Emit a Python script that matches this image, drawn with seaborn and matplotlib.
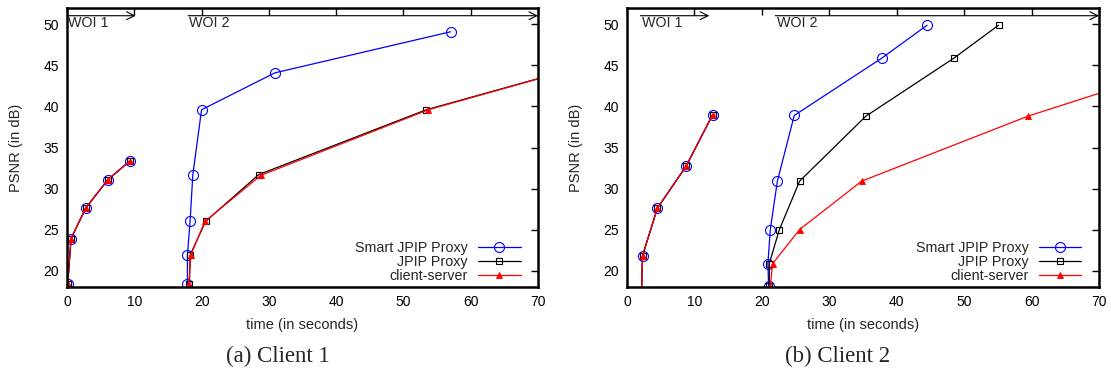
import matplotlib
matplotlib.use("Agg")
import matplotlib.pyplot as plt
from matplotlib.lines import Line2D
import seaborn as sns
import pandas as pd

# ---------------- data ----------------
series_names = ["Smart JPIP Proxy", "JPIP Proxy", "client-server"]

# Client 1
c1_woi1_t = [0.1, 0.6, 2.8, 6.1, 9.4]
c1_woi1_p = [18.35, 23.9, 27.65, 31.1, 33.4]

c1_smart_t = [17.9, 17.9, 18.3, 18.7, 20.0, 30.9, 57.0]
c1_smart_p = [18.35, 21.9, 26.1, 31.7, 39.6, 44.1, 49.1]
c1_jpip_t = [18.2, 18.3, 20.6, 28.5, 53.4, 88.0]
c1_jpip_p = [18.35, 21.9, 26.0, 31.7, 39.6, 47.5]
c1_cs_t = [18.1, 18.4, 20.5, 28.8, 53.7, 88.0]
c1_cs_p = [18.35, 21.9, 26.0, 31.6, 39.6, 47.5]

# Client 2
c2_woi1_t = [2.1, 2.3, 4.5, 8.75, 12.7]
c2_woi1_p = [16.0, 21.8, 27.6, 32.7, 39.0]

c2_smart_t = [21.0, 20.9, 21.25, 22.3, 24.8, 37.8, 44.5]
c2_smart_p = [18.1, 20.85, 25.0, 30.9, 38.9, 45.9, 49.9]
c2_jpip_t = [21.1, 21.1, 22.6, 25.6, 35.4, 48.5, 55.1]
c2_jpip_p = [18.1, 20.85, 25.0, 30.9, 38.8, 45.9, 49.9]
c2_cs_t = [21.25, 21.6, 25.6, 34.8, 59.4, 84.0]
c2_cs_p = [18.1, 20.85, 25.0, 30.9, 38.8, 45.3]

x_ticks = [0, 10, 20, 30, 40, 50, 60, 70]
y_ticks = [20, 25, 30, 35, 40, 45, 50]

woi_c1 = [("WOI 1", 0.0, 10.2), ("WOI 2", 18.0, 70.0)]
woi_c2 = [("WOI 1", 2.0, 12.2), ("WOI 2", 22.0, 70.0)]


def build(woi1_t, woi1_p, series):
    rows = []
    for name, (t2, p2) in zip(series_names, series):
        for t, p in zip(woi1_t, woi1_p):
            rows.append(dict(series=name, seg="w1", time=t, psnr=p))
        for t, p in zip(t2, p2):
            rows.append(dict(series=name, seg="w2", time=t, psnr=p))
    return pd.DataFrame(rows)


df1 = build(c1_woi1_t, c1_woi1_p, [(c1_smart_t, c1_smart_p), (c1_jpip_t, c1_jpip_p), (c1_cs_t, c1_cs_p)])
df2 = build(c2_woi1_t, c2_woi1_p, [(c2_smart_t, c2_smart_p), (c2_jpip_t, c2_jpip_p), (c2_cs_t, c2_cs_p)])

styles = {
    "Smart JPIP Proxy": dict(color="#0000ff", marker="o", ms=7.2, mfc="none", mec="#0000ff", mew=0.8),
    "JPIP Proxy": dict(color="#000000", marker="s", ms=5.0, mfc="none", mec="#000000", mew=0.8),
    "client-server": dict(color="#ff0000", marker="^", ms=4.0, mfc="#ff0000", mec="#ff0000", mew=0.6),
}

sns.set_theme(style="white")
plt.rcParams["font.family"] = ["Liberation Sans", "DejaVu Sans"]

fig = plt.figure(figsize=(11.11, 3.72), dpi=100)
ax1 = fig.add_axes([67 / 1111, 85 / 372, 471 / 1111, 279 / 372])
ax2 = fig.add_axes([627 / 1111, 85 / 372, 472 / 1111, 279 / 372])


def draw(ax, df, woi, caption, cap_x):
    for name in series_names:
        sub = df[df["series"] == name]
        st = styles[name]
        sns.lineplot(data=sub, x="time", y="psnr", units="seg", estimator=None,
                     sort=False, legend=False, ax=ax, lw=0.9, **st)
    ax.set_xlim(0, 70)
    ax.set_ylim(18, 52)
    ax.set_xticks(x_ticks)
    ax.set_yticks(y_ticks)
    ax.tick_params(direction="in", top=True, right=True, length=5, width=1,
                   labelsize=10, colors="black", pad=6)
    for s in ax.spines.values():
        s.set_linewidth(1.8)
        s.set_color("black")
        s.set_visible(True)
    ax.set_xlabel("time (in seconds)", fontsize=10.5)
    ax.set_ylabel("PSNR (in dB)", fontsize=10.5)
    ax.xaxis.set_label_coords(0.5, -0.112)
    ax.yaxis.set_label_coords(-0.093, 0.5)
    for label, x0, x1 in woi:
        ax.annotate("", xy=(x1, 51.06), xytext=(x0, 51.06),
                    arrowprops=dict(arrowstyle="->", lw=0.8, color="black",
                                    shrinkA=0, shrinkB=0, mutation_scale=14))
        ax.text(x0 + 0.2, 51.0, label, fontsize=10.3, va="top", ha="left")
    handles = [Line2D([], [], lw=0.9, **styles[n]) for n in series_names]
    ax.legend(handles, series_names, loc="lower right", frameon=False,
              markerfirst=False, fontsize=10.3, handlelength=3.0,
              handletextpad=0.7, labelspacing=0.0, borderaxespad=0.0,
              borderpad=0.3, bbox_to_anchor=(0.972, 0.0))
    fig.text(cap_x, 10 / 372, caption, fontsize=16.5, ha="center", va="baseline",
             family=["Liberation Serif", "DejaVu Serif"])


draw(ax1, df1, woi_c1, "(a) Client 1", 278 / 1111)
draw(ax2, df2, woi_c2, "(b) Client 2", 838 / 1111)

fig.savefig("out.png", dpi=100)
